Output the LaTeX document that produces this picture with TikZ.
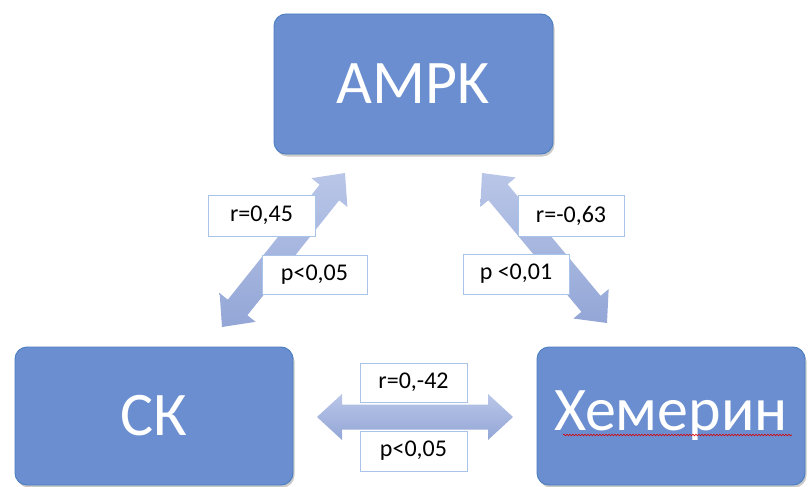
\documentclass[tikz,border=0pt]{standalone}
\usepackage{fontspec}
\setmainfont{Carlito}
\usetikzlibrary{calc,shadows,decorations.pathmorphing}

\definecolor{boxfill}{HTML}{6A8ECF}
\definecolor{boxedge}{HTML}{4A7EC0}
\definecolor{arrowlight}{HTML}{B9C6E8}
\definecolor{arrowdark}{HTML}{93A6D6}
\definecolor{labeledge}{HTML}{A9C4E8}

\tikzset{
  bigbox/.style={draw=boxedge, line width=0.9pt, fill=boxfill, rounded corners=12pt,
    text=white, font=\fontsize{62}{62}\selectfont, inner sep=0pt,
    drop shadow={shadow xshift=1.5pt, shadow yshift=-2.5pt, opacity=0.35, fill=black!60}},
  statbox/.style={draw=labeledge, line width=0.7pt, fill=white, inner sep=0pt,
    font=\fontsize{24}{24}\selectfont},
  arrowbody/.style={top color=arrowlight, bottom color=arrowdark, draw=none},
}

% double-headed block arrow between two named tips
\newcommand\dblarrow[2]{%
  \coordinate (#1-ha) at ($(#1)!25pt!(#2)$);
  \coordinate (#1-hb) at ($(#2)!25pt!(#1)$);
  \path[arrowbody]
    (#1)
    -- ($(#1-ha)!23pt!90:(#2)$)
    -- ($(#1-ha)!12.5pt!90:(#2)$)
    -- ($(#1-hb)!12.5pt!-90:(#1)$)
    -- ($(#1-hb)!23pt!-90:(#1)$)
    -- (#2)
    -- ($(#1-hb)!23pt!90:(#1)$)
    -- ($(#1-hb)!12.5pt!90:(#1)$)
    -- ($(#1-ha)!12.5pt!-90:(#2)$)
    -- ($(#1-ha)!23pt!-90:(#2)$)
    -- cycle;
}

\begin{document}
\begin{tikzpicture}[x=1pt,y=-1pt]
  \useasboundingbox (0,0) rectangle (809,487);

  % main boxes
  \node[bigbox, minimum width=279pt, minimum height=140pt] (ampk) at (413.5,84) {AMPK};
  \node[bigbox, minimum width=278pt, minimum height=138pt] (sk) at (154,416) {СК};
  \node[bigbox, minimum width=268pt, minimum height=138pt] (chem) at (671,416) {Хемерин};

  % spell-check underline under the word
  \draw[red!85!black, line width=0.6pt, decorate,
        decoration={snake, amplitude=0.8pt, segment length=3pt}]
    ($(chem.center)+(-108,19)$) -- ($(chem.center)+(121,19)$);

  % arrow tips
  \coordinate (l1) at (222,327);
  \coordinate (l2) at (345,173);
  \coordinate (r1) at (482,173);
  \coordinate (r2) at (607,323);
  \coordinate (h1) at (317,417);
  \coordinate (h2) at (513,417);

  \dblarrow{l1}{l2}
  \dblarrow{r1}{r2}
  \dblarrow{h1}{h2}

  % statistics labels
  \node[statbox, minimum width=107pt, minimum height=41pt] (rl) at (261.5,215.5) {r=0,45};
  \node[statbox, minimum width=105pt, minimum height=39pt] (pl) at (314.5,274.5) {p<0,05};
  \node[statbox, minimum width=106pt, minimum height=41pt] (rr) at (571,215.5) {r=-0,63};
  \node[statbox, minimum width=106pt, minimum height=40pt] (pr) at (516,274) {p <0,01};
  \node[statbox, minimum width=107pt, minimum height=39pt] (rh) at (413.5,382.5) {r=0,-42};
  \node[statbox, minimum width=107pt, minimum height=40pt] (ph) at (413.5,451) {p<0,05};
\end{tikzpicture}
\end{document}
